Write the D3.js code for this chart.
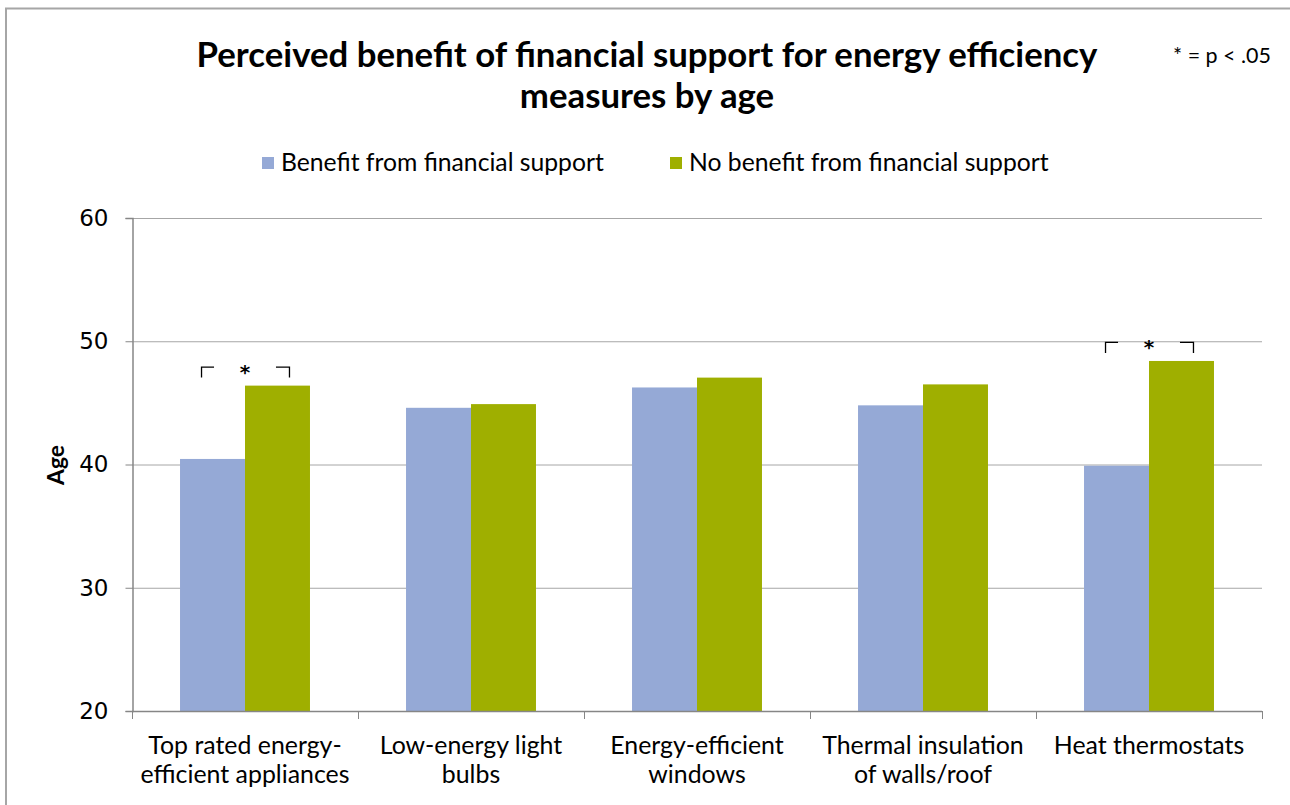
<!DOCTYPE html>
<html><head><meta charset="utf-8">
<script src="https://cdn.jsdelivr.net/npm/d3@7"></script>
<style>html,body{margin:0;padding:0;background:#fff;}</style>
</head><body>
<script>
const categories = [["Top rated energy-","efficient appliances"],["Low-energy light","bulbs"],["Energy-efficient","windows"],["Thermal insulation","of walls/roof"],["Heat thermostats"]];
const seriesNames = ["Benefit from financial support","No benefit from financial support"];
const benefit = [40.45, 44.6, 46.25, 44.8, 39.9];
const noBenefit = [46.4, 44.9, 47.05, 46.5, 48.4];
const significant = [true, false, false, false, true];
const yTicks = [20, 30, 40, 50, 60];
const colors = ["#95a9d6", "#9faf00"];
const font = "Lato, 'Open Sans', sans-serif";

const W = 1290, H = 805;
const svg = d3.select("body").append("svg").attr("width", W).attr("height", H);

// border
svg.append("path").attr("d", `M6,${H} L6,8.5 L${W},8.5`).attr("fill","none").attr("stroke","#a6a6a6").attr("stroke-width",2);

const m = {l:132, r:1262, t:218, b:711};
const y = d3.scaleLinear().domain([20,60]).range([m.b, m.t]);
const x0 = d3.scaleBand().domain(d3.range(categories.length)).range([m.l, m.r]).paddingInner(0.425).paddingOuter(0.2125);
const x1 = d3.scaleBand().domain([0,1]).range([0, x0.bandwidth()]);

function fit(sel, target){
  sel.each(function(){
    const w = this.getComputedTextLength();
    const fs = parseFloat(d3.select(this).attr("font-size"));
    d3.select(this).attr("font-size", fs*target/w);
  });
}

// gridlines
svg.append("g").selectAll("line").data(yTicks.slice(1)).join("line")
  .attr("x1", m.l).attr("x2", m.r).attr("y1", d=>y(d)+0.5).attr("y2", d=>y(d)+0.5)
  .attr("stroke","#a6a6a6").attr("stroke-width",1);

// bars
const data = categories.map((c,i)=>({i, vals:[benefit[i], noBenefit[i]]}));
const g = svg.append("g").selectAll("g").data(data).join("g").attr("transform", d=>`translate(${x0(d.i)},0)`);
g.selectAll("rect").data(d=>d.vals.map((v,k)=>({v,k}))).join("rect")
  .attr("x", d=>x1(d.k)).attr("width", x1.bandwidth())
  .attr("y", d=>y(d.v)).attr("height", d=>m.b - y(d.v))
  .attr("fill", d=>colors[d.k]);

// y axis
const yAxis = d3.axisLeft(y).tickValues(yTicks).tickSize(7).tickPadding(17);
const ya = svg.append("g").attr("transform", `translate(${m.l+0.5},0)`).call(yAxis);
ya.attr("font-size", null).attr("font-family", null);
ya.select(".domain").attr("stroke","#868686").attr("stroke-width",1.5);
ya.selectAll(".tick line").attr("stroke","#868686");
ya.selectAll("text").style("font-family","'DejaVu Sans', sans-serif").style("font-size","23px").attr("fill","#000");

// x axis
const bounds = d3.range(categories.length+1).map(i=> m.l + i*(m.r-m.l)/categories.length);
svg.append("line").attr("x1",m.l).attr("x2",m.r).attr("y1",m.b+0.5).attr("y2",m.b+0.5).attr("stroke","#868686").attr("stroke-width",1.5);
svg.append("g").selectAll("line").data(bounds).join("line")
  .attr("x1",d=>d+0.5).attr("x2",d=>d+0.5).attr("y1",m.b).attr("y2",m.b+8).attr("stroke","#868686");

// x labels
const xl = svg.append("g").selectAll("text").data(categories).join("text")
  .attr("text-anchor","middle").attr("font-family",font).attr("font-size",21).attr("fill","#000")
  .attr("transform",(d,i)=>`translate(${x0(i)+x0.bandwidth()/2},754)`);
xl.selectAll("tspan").data(d=>d).join("tspan").attr("x",0).attr("dy",(d,k)=>k?29:0).text(d=>d);
{
  const t = xl.filter((d,i)=>i===0).selectAll("tspan").filter((d,k)=>k===1).node();
  const w = t.getComputedTextLength();
  xl.attr("font-size", 21*209/w);
}

// y label
svg.append("text").attr("transform","translate(64,465) rotate(-90)").attr("text-anchor","middle")
  .attr("font-family",font).attr("font-weight","bold").attr("font-size",20).text("Age").call(fit,40);

// title
const t1 = svg.append("text").attr("x",647).attr("y",67).attr("text-anchor","middle").attr("font-family",font)
  .attr("font-weight","bold").attr("font-size",30).text("Perceived benefit of financial support for energy efficiency").call(fit,901);
svg.append("text").attr("x",647).attr("y",108).attr("text-anchor","middle").attr("font-family",font)
  .attr("font-weight","bold").attr("font-size",t1.attr("font-size")).text("measures by age");

// note
svg.append("text").attr("x",1271).attr("y",63).attr("text-anchor","end").attr("font-family",font)
  .attr("font-size",17).text("* = p < .05").call(fit,98);

// legend
const legX = [262, 670];
const lg = svg.append("g").selectAll("g").data(seriesNames).join("g").attr("transform",(d,i)=>`translate(${legX[i]},0)`);
lg.append("rect").attr("x",0).attr("y",157).attr("width",12).attr("height",12).attr("fill",(d,i)=>colors[i]);
const lt = lg.append("text").attr("x",19).attr("y",171).attr("font-family",font).attr("font-size",22).text(d=>d);
{
  const w = lt.filter((d,i)=>i===0).node().getComputedTextLength();
  lt.attr("font-size", 22*323/w);
}

// significance brackets
const sig = svg.append("g").selectAll("g").data(data.filter(d=>significant[d.i])).join("g");
sig.each(function(d){
  const gg = d3.select(this);
  const cx = x0(d.i)+x0.bandwidth()/2;
  const top = y(Math.max(...d.vals)) - 19;
  const half = x0.bandwidth()/2 - 21;
  gg.append("path").attr("d",`M${cx-half+0.5},${top+11} V${top+0.5} H${cx-half+13}`).attr("fill","none").attr("stroke","#000").attr("stroke-width",1.3);
  gg.append("path").attr("d",`M${cx+half-13},${top+0.5} H${cx+half+0.5} V${top+11}`).attr("fill","none").attr("stroke","#000").attr("stroke-width",1.3);
  gg.append("text").attr("x",cx).attr("y",top+12).attr("text-anchor","middle").attr("font-family","'DejaVu Sans', sans-serif").attr("font-weight","bold").attr("font-size",20).text("*");
});
</script>
</body></html>
